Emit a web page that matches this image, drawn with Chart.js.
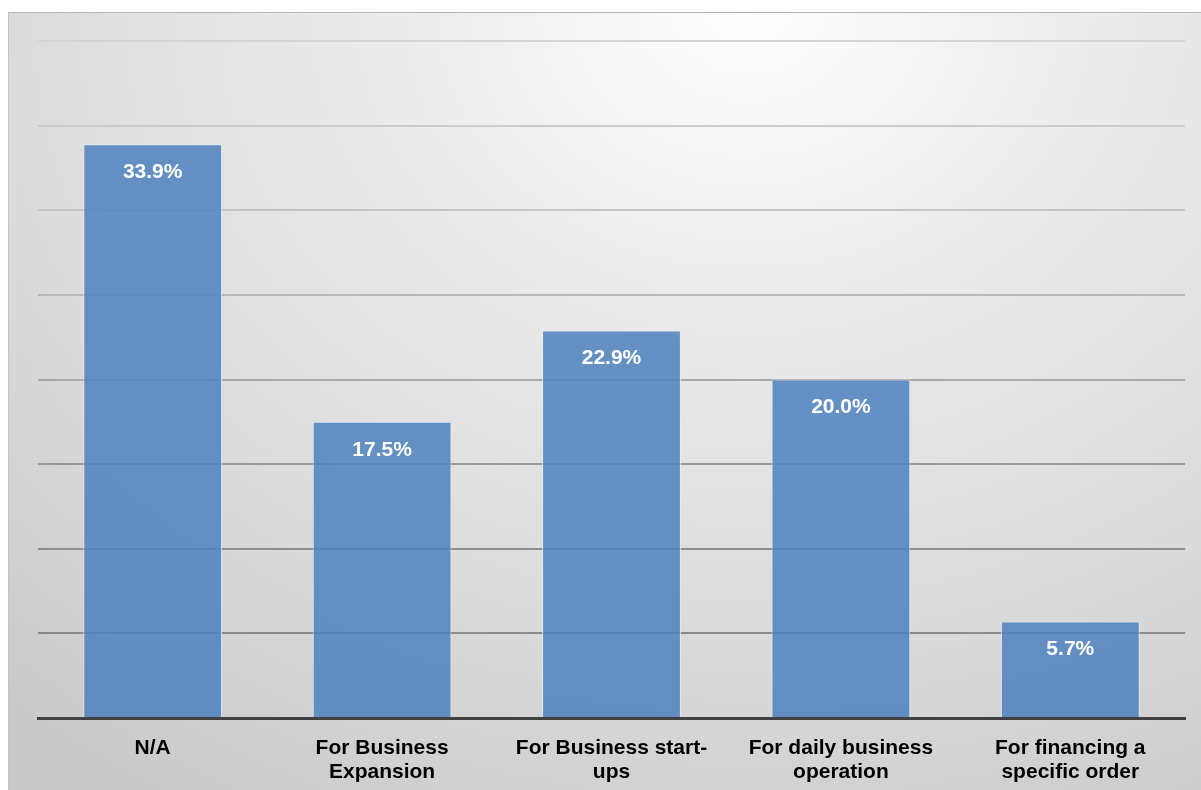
<!DOCTYPE html>
<html>
<head>
<meta charset="utf-8">
<script src="https://cdn.jsdelivr.net/npm/chart.js@4.4.1/dist/chart.umd.min.js"></script>
<style>
    html, body {
        margin: 0;
        padding: 0;
        background: #ffffff;
    }
    .chart-box {
        position: absolute;
        left: 8px;
        top: 12px;
        width: 1193px;
        height: 778px;
        border-top: 1px solid #b4b4b4;
        border-left: 1px solid #c4c4c4;
        box-sizing: border-box;
        background: radial-gradient(ellipse 95% 120% at 62% 0%, #ffffff 0%, #ececec 30%, #dcdcdc 65%, #c9c9c9 100%);
    }
</style>
</head>
<body>
<div class="chart-box">
    <canvas id="purpose-chart" width="1192" height="777"></canvas>
</div>
<script>
const categories = [
    "N/A",
    ["For Business", "Expansion"],
    ["For Business start-", "ups"],
    ["For daily business", "operation"],
    ["For financing a", "specific order"],
];
const shares = [33.9, 17.5, 22.9, 20.0, 5.7];
const yTicks = [0, 5, 10, 15, 20, 25, 30, 35, 40];

// gridlines get darker towards the axis
const gridColors = ["#7c7c7c", "#8a8a8a", "#8e8e8e", "#989898", "#a8a8a8", "#b8b8b8", "#c4c4c4", "#cccccc", "#d4d4d4"];

const barLabels = {
    id: "barLabels",
    afterDatasetsDraw(chart) {
        const ctx = chart.ctx;
        const meta = chart.getDatasetMeta(0);
        ctx.save();
        ctx.fillStyle = "#ffffff";
        ctx.font = "bold 21px 'Liberation Sans', Arial, sans-serif";
        ctx.textAlign = "center";
        ctx.textBaseline = "middle";
        meta.data.forEach((bar, i) => {
            ctx.fillText(shares[i].toFixed(1) + "%", bar.x, bar.y + 28);
        });
        ctx.restore();
    },
};

new Chart(document.getElementById("purpose-chart"), {
    type: "bar",
    data: {
        labels: categories,
        datasets: [
            {
                data: shares,
                backgroundColor: "rgba(79, 129, 189, 0.86)",
                borderColor: "rgba(225, 235, 248, 0.9)",
                borderWidth: 1,
                categoryPercentage: 0.605,
                barPercentage: 1.0,
            },
        ],
    },
    options: {
        responsive: false,
        animation: false,
        layout: {
            padding: { left: 29, right: 16, top: 28, bottom: 0 },
        },
        plugins: {
            legend: { display: false },
            tooltip: { enabled: false },
        },
        scales: {
            x: {
                grid: { display: false },
                border: { color: "#404040", width: 3 },
                ticks: {
                    color: "#000000",
                    font: { family: "'Liberation Sans', Arial, sans-serif", size: 21, weight: "bold", lineHeight: 1.15 },
                    padding: 10,
                    maxRotation: 0,
                    autoSkip: false,
                },
                afterFit: (axis) => {
                    axis.height = 72;
                },
            },
            y: {
                min: 0,
                max: 40,
                afterBuildTicks: (axis) => {
                    axis.ticks = yTicks.map((v) => ({ value: v }));
                },
                ticks: { display: false },
                border: { display: false },
                grid: {
                    lineWidth: 2,
                    drawTicks: false,
                    color: (c) => gridColors[c.index] || "#bbbbbb",
                },
            },
        },
    },
    plugins: [barLabels],
});
</script>
</body>
</html>
